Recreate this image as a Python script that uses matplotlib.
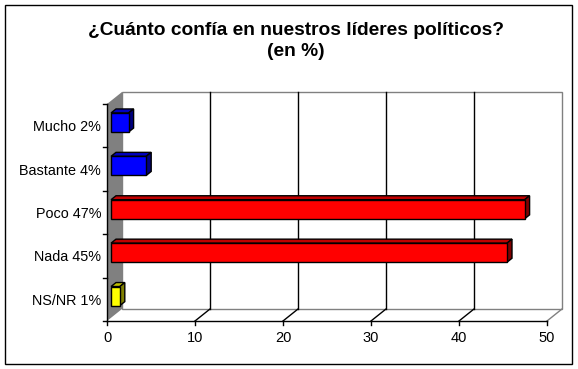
import matplotlib
matplotlib.use("Agg")
import matplotlib.pyplot as plt
from matplotlib.patches import Rectangle, Polygon

plt.rcParams['font.family'] = ['Liberation Sans', 'DejaVu Sans']

# ---- data ----
categories = ["Mucho 2%", "Bastante 4%", "Poco 47%", "Nada 45%", "NS/NR 1%"]
values = [2, 4, 47, 45, 1]
front_colors = ["#0000FF", "#0000FF", "#FF0000", "#FF0000", "#FFFF00"]
top_colors = ["#0000C0", "#0000C0", "#C00000", "#C00000", "#C0C000"]
side_colors = ["#000080", "#000080", "#800000", "#800000", "#808000"]
xticks = [0, 10, 20, 30, 40, 50]
title = "¿Cuánto confía en nuestros líderes políticos?\n(en %)"

# ---- layout (pixels) ----
W, H = 578, 369
px0, pxunit = 107, 8.8          # pixel of value 0 and pixels per unit (front plane)
py_top, pcat = 104, 43.4        # pixel of top of category band and pixels per category
depth_px = (15, 12)

fig = plt.figure(figsize=(W / 100, H / 100), dpi=100)
fig.patch.set_facecolor("white")
ax = fig.add_axes([0, 0, 1, 1])
ax.set_axis_off()
ax.set_xlim(-px0 / pxunit, (W - px0) / pxunit)
ax.set_ylim((H - py_top) / pcat - 0.5, -py_top / pcat - 0.5)

DX = depth_px[0] / pxunit
DY = depth_px[1] / pcat
n = len(categories)
xmax = xticks[-1]
ytop, ybot = -0.5, n - 0.5

# back wall
ax.add_patch(Rectangle((DX, ytop - DY), xmax, n, facecolor="white",
                       edgecolor="#808080", lw=1, zorder=1))
for v in xticks[1:-1]:
    ax.plot([v + DX, v + DX], [ytop - DY, ybot - DY], color="black", lw=1, zorder=2)
# floor diagonals
for v in xticks[1:]:
    ax.plot([v, v + DX], [ybot, ybot - DY], color="black" if v < xmax else "#808080",
            lw=1, zorder=2)
# left wall
ax.add_patch(Polygon([(0, ytop), (DX, ytop - DY), (DX, ybot - DY), (0, ybot)],
                     closed=True, facecolor="#808080", edgecolor="none", zorder=3))

# axes lines
ax.plot([0, 0], [ytop, ybot], color="black", lw=1, zorder=4)
ax.plot([0, xmax], [ybot, ybot], color="black", lw=1, zorder=4)
tlx = 4 / pxunit
tly = 4 / pcat
for k in range(n + 1):
    ax.plot([-tlx, 0], [ytop + k, ytop + k], color="black", lw=1, zorder=4)
for v in xticks:
    ax.plot([v, v], [ybot, ybot + tly], color="black", lw=1, zorder=4)
    ax.text(v, ybot + 17 / pcat, str(v), ha="center", va="center", fontsize=10.5)

# bars
f0, f1 = 0.27, 0.6
h = 0.44
ddx, ddy = (f1 - f0) * DX, (f1 - f0) * DY
for i, (v, fc, tc, sc) in enumerate(zip(values, front_colors, top_colors, side_colors)):
    x0 = f0 * DX
    yc = i - f0 * DY
    yt, yb = yc - h / 2, yc + h / 2
    ax.add_patch(Polygon([(x0, yt), (x0 + v, yt), (x0 + v + ddx, yt - ddy), (x0 + ddx, yt - ddy)],
                         closed=True, facecolor=tc, edgecolor="black", lw=1, zorder=5))
    ax.add_patch(Polygon([(x0 + v, yt), (x0 + v, yb), (x0 + v + ddx, yb - ddy), (x0 + v + ddx, yt - ddy)],
                         closed=True, facecolor=sc, edgecolor="black", lw=1, zorder=5))
    ax.add_patch(Rectangle((x0, yt), v, h, facecolor=fc, edgecolor="black", lw=1, zorder=6))
    ax.text(-(px0 - 101) / pxunit, i + 1.5 / pcat, categories[i], ha="right", va="center",
            fontsize=10.4)

# title
fig.text(296 / W, 1 - 41 / H, title, ha="center", va="center", fontsize=13.8,
         fontweight="bold", linespacing=1.25)

# outer border
fig.add_artist(Rectangle((5 / W, 5 / H), 567 / W, 359 / H, transform=fig.transFigure,
                         facecolor="none", edgecolor="black", lw=1))

fig.savefig("out.png", dpi=100)
